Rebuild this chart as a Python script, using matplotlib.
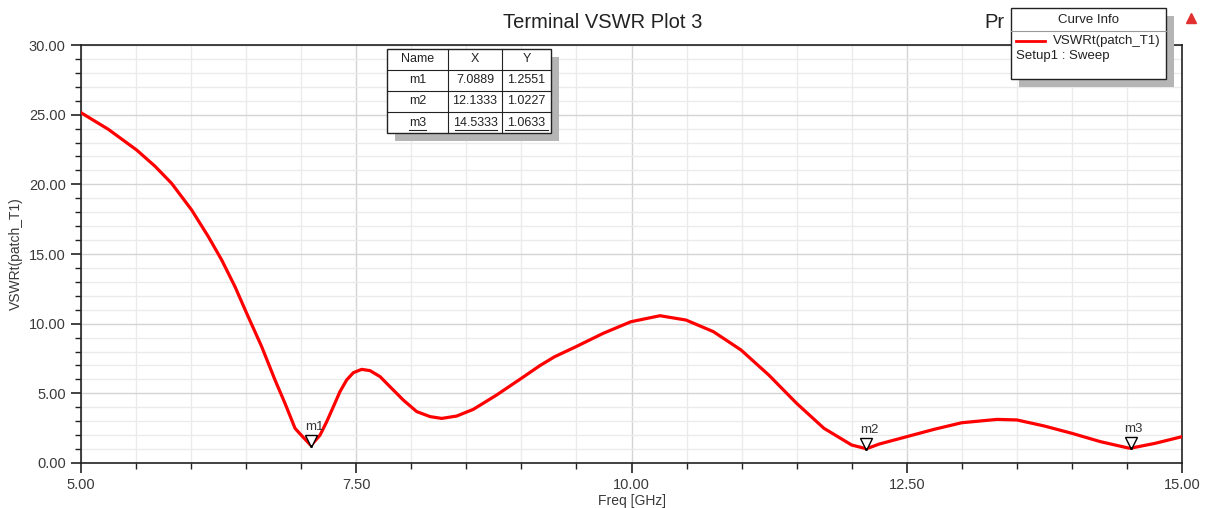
import numpy as np
import matplotlib.pyplot as plt
from matplotlib.patches import Rectangle
from matplotlib.lines import Line2D
from matplotlib.ticker import MultipleLocator, FormatStrFormatter
import matplotlib.transforms as mtransforms

plt.rcParams['font.family'] = ['Liberation Sans', 'DejaVu Sans']

# sweep (GHz, VSWR)
freq = [5.0, 5.248, 5.506, 5.672, 5.823, 6.005, 6.157, 6.278, 6.399, 6.505,
        6.641, 6.762, 6.853, 6.944, 7.0, 7.0889, 7.171, 7.232, 7.292, 7.352,
        7.413, 7.473, 7.549, 7.625, 7.716, 7.806, 7.927, 8.049, 8.170, 8.276,
        8.412, 8.563, 8.775, 9.0, 9.17, 9.30, 9.496, 9.744, 9.995, 10.259, 10.495,
        10.743, 10.995, 11.246, 11.5, 11.748, 12.0, 12.1333, 12.25, 12.5,
        12.75, 13.0, 13.32, 13.5, 13.747, 14.0, 14.26, 14.51, 14.5333, 14.755,
        15.0]
vswr = [25.14, 23.95, 22.46, 21.3, 20.07, 18.16, 16.24, 14.57, 12.65, 10.74,
        8.35, 5.96, 4.28, 2.49, 2.0, 1.2551, 2.0, 2.97, 4.04, 5.12,
        5.96, 6.48, 6.72, 6.63, 6.2, 5.48, 4.52, 3.69, 3.33, 3.2,
        3.37, 3.85, 4.88, 6.08, 7.0, 7.62, 8.35, 9.31, 10.14, 10.57, 10.26,
        9.43, 8.11, 6.32, 4.28, 2.49, 1.29, 1.0227, 1.36, 1.89,
        2.42, 2.89, 3.13, 3.09, 2.66, 2.13, 1.53, 1.08, 1.0633, 1.41,
        1.89]

marker_names = ['m1', 'm2', 'm3']
marker_x = [7.0889, 12.1333, 14.5333]
marker_y = [1.2551, 1.0227, 1.0633]

W, H = 1207, 508
fig = plt.figure(figsize=(W / 100, H / 100), dpi=100)
ax = fig.add_axes([81 / W, 1 - 463 / H, 1101 / W, 418 / H])

ax.plot(freq, vswr, color='#ff0000', lw=2.3, zorder=3, solid_joinstyle='round')

ax.set_xlim(5, 15)
ax.set_ylim(0, 30)
ax.xaxis.set_major_locator(MultipleLocator(2.5))
ax.xaxis.set_minor_locator(MultipleLocator(0.5))
ax.yaxis.set_major_locator(MultipleLocator(5))
ax.yaxis.set_minor_locator(MultipleLocator(1))
ax.xaxis.set_major_formatter(FormatStrFormatter('%.2f'))
ax.yaxis.set_major_formatter(FormatStrFormatter('%.2f'))
ax.grid(which='major', color='#d4d4d4', lw=1.0)
ax.grid(which='minor', color='#ebebeb', lw=1.0)
ax.set_axisbelow(True)
ax.tick_params(which='major', direction='out', length=7.5, width=1.2,
               labelsize=10.5, labelcolor='#3a3a3a', color='#222222')
ax.tick_params(which='minor', direction='out', length=4, width=1.0, color='#222222')
for s in ax.spines.values():
    s.set_color('#222222')
    s.set_linewidth(1.2)

ax.set_xlabel('Freq [GHz]', fontsize=10, color='#3a3a3a', labelpad=1)
ax.set_ylabel('VSWRt(patch_T1)', fontsize=10, color='#3a3a3a', labelpad=4)

# markers: open triangles just above the curve point
tri = mtransforms.offset_copy(ax.transData, fig=fig, y=5, units='dots')
for name, mx, my in zip(marker_names, marker_x, marker_y):
    ax.plot(mx, my, marker='v', ms=8, mfc='white', mec='black', mew=1.0,
            transform=tri, zorder=4, clip_on=False)
    ax.plot(mx, my, marker='.', ms=2, color='black', zorder=5)
    ax.annotate(name, (mx, my), xytext=(3, 13), textcoords='offset pixels',
                ha='center', va='bottom', fontsize=9.5, color='#333333', zorder=5)

fig.text(603 / W, 1 - 22 / H, 'Terminal VSWR Plot 3', ha='center', va='center',
         fontsize=14.5, color='#222222')
fig.text(984 / W, 1 - 22 / H, 'Pr', ha='left', va='center', fontsize=14.5,
         color='#222222')


def px_rect(x0, y0, x1, y1, **kw):
    return Rectangle((x0 / W, 1 - y1 / H), (x1 - x0) / W, (y1 - y0) / H,
                     transform=fig.transFigure, **kw)


def px_line(x0, y0, x1, y1, **kw):
    return Line2D([x0 / W, x1 / W], [1 - y0 / H, 1 - y1 / H],
                  transform=fig.transFigure, **kw)


# marker table
col_edges = [387, 448, 502, 551]
row_edges = [49, 70, 91, 112, 133]
table_head = ['Name', 'X', 'Y']
table_rows = [[n, '%.4f' % x, '%.4f' % y] for n, x, y in zip(marker_names, marker_x, marker_y)]
fig.patches.append(px_rect(395, 57, 559, 141, facecolor='#b5b5b5', edgecolor='none', zorder=5))
fig.patches.append(px_rect(387, 49, 551, 133, facecolor='white', edgecolor='#222222', lw=1.0, zorder=6))
for xe in col_edges[1:-1]:
    fig.lines.append(px_line(xe, 49, xe, 133, color='#222222', lw=0.8, zorder=7))
for ye in row_edges[1:-1]:
    fig.lines.append(px_line(387, ye, 551, ye, color='#222222', lw=0.8, zorder=7))
for r, row in enumerate([table_head] + table_rows):
    yc = (row_edges[r] + row_edges[r + 1]) / 2
    for c, txt in enumerate(row):
        xc = (col_edges[c] + col_edges[c + 1]) / 2
        fig.text(xc / W, 1 - yc / H, txt, ha='center', va='center', fontsize=9,
                 color='#222222', zorder=8)
# last row is underlined (selected marker)
for x0, x1 in [(409, 426), (455, 497), (505, 548)]:
    fig.lines.append(px_line(x0, 130, x1, 130, color='#222222', lw=0.8, zorder=8))

# curve info box
fig.patches.append(px_rect(1019, 16, 1174, 87, facecolor='#b5b5b5', edgecolor='none', zorder=5))
fig.patches.append(px_rect(1011, 8, 1166, 79, facecolor='white', edgecolor='#222222', lw=1.0, zorder=6))
fig.lines.append(px_line(1011, 31, 1166, 31, color='#999999', lw=0.8, zorder=7))
fig.text(1089 / W, 1 - 20 / H, 'Curve Info', ha='center', va='center', fontsize=9.5,
         color='#222222', zorder=8)
fig.lines.append(px_line(1016, 41, 1045, 41, color='#ff0000', lw=2, zorder=8))
fig.text(1053 / W, 1 - 41 / H, 'VSWRt(patch_T1)', ha='left', va='center', fontsize=9.5,
         color='#222222', zorder=8)
fig.text(1016 / W, 1 - 56 / H, 'Setup1 : Sweep', ha='left', va='center', fontsize=9.5,
         color='#222222', zorder=8)

# little logo in the corner
fig.lines.append(Line2D([1191 / W], [1 - 18 / H], marker='^', ms=7, color='#e03030',
                        transform=fig.transFigure, zorder=8))

fig.savefig('out.png', dpi=100)
